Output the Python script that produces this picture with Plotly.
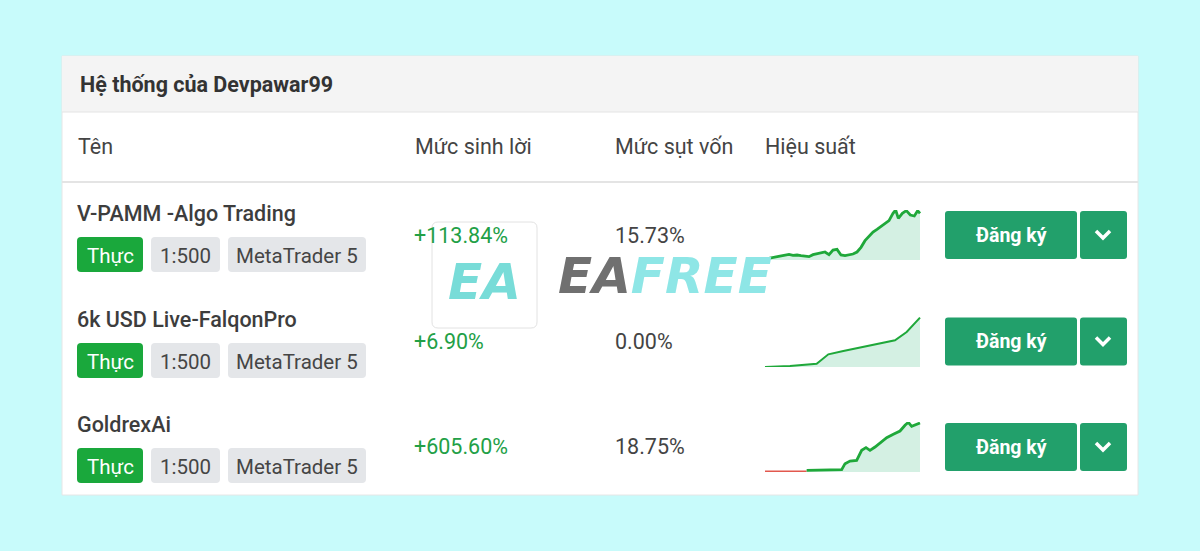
import plotly.graph_objects as go

W, H = 1200, 551

title = "Hệ thống của Devpawar99"
columns = ["Tên", "Mức sinh lời", "Mức sụt vốn", "Hiệu suất"]
names = ["V-PAMM -Algo Trading", "6k USD Live-FalqonPro", "GoldrexAi"]
account_type = ["Thực", "Thực", "Thực"]
leverage = ["1:500", "1:500", "1:500"]
platform = ["MetaTrader 5", "MetaTrader 5", "MetaTrader 5"]
profit = ["+113.84%", "+6.90%", "+605.60%"]
drawdown = ["15.73%", "0.00%", "18.75%"]
button_label = "Đăng ký"

# sparkline values (arbitrary units, 0 = baseline)
spark1_t = [15, 27, 39, 51, 63, 75, 87, 99, 111, 123, 135, 147, 159, 171, 183, 195, 207, 219,
            231, 243, 255, 267, 279, 291, 303, 315, 327, 339, 351, 363, 375, 387, 399, 407,
            415, 427, 439, 451, 463, 473, 480]
spark1_v = [3, 5, 7, 10, 12, 15, 17, 14, 15, 13, 12, 10, 16, 19, 22, 24, 16, 30,
            32, 15, 13, 16, 18, 24, 38, 58, 72, 84, 92, 100, 108, 118, 140, 150,
            125, 140, 148, 135, 132, 148, 140]
spark2_t = [15, 90, 170, 205, 250, 300, 350, 405, 440, 480]
spark2_v = [0, 3, 10, 38, 48, 58, 68, 80, 105, 148]
spark3_loss_t = [15, 140]
spark3_loss_v = [2, 2]
spark3_t = [140, 170, 200, 225, 245, 255, 270, 290, 305, 318, 330, 345, 360, 380, 400, 420,
            435, 445, 455, 465, 480]
spark3_v = [5, 6, 5, 6, 7, 25, 33, 35, 65, 73, 65, 75, 87, 103, 113, 123,
            140, 149, 137, 141, 147]

row_top = [190, 296, 401]          # top of each row block (pixels)
GREEN = "#1aa83c"
BTN = "#22a06b"
TXT = "#3d3d3d"
FONT = "Roboto"
BG = "#c8fbfb"


def rrect(x0, y0, x1, y1, r=4):
    return (f"M{x0 + r},{y0} L{x1 - r},{y0} Q{x1},{y0} {x1},{y0 + r} "
            f"L{x1},{y1 - r} Q{x1},{y1} {x1 - r},{y1} L{x0 + r},{y1} "
            f"Q{x0},{y1} {x0},{y1 - r} L{x0},{y0 + r} Q{x0},{y0} {x0 + r},{y0} Z")


fig = go.Figure()
shapes = []
ann = []

# card
shapes.append(dict(type="rect", x0=62, y0=56, x1=1138, y1=495, fillcolor="white",
                   line=dict(color="#e6e6e6", width=1), layer="below"))
shapes.append(dict(type="rect", x0=62, y0=56, x1=1138, y1=112, fillcolor="#f4f4f4",
                   line=dict(width=0), layer="below"))
shapes.append(dict(type="line", x0=62, y0=112, x1=1138, y1=112,
                   line=dict(color="#e4e4e4", width=1), layer="below"))
shapes.append(dict(type="line", x0=62, y0=182, x1=1138, y1=182,
                   line=dict(color="#e4e4e4", width=2), layer="below"))

ann.append(dict(x=78, y=84, text=f"<b>{title}</b>", xanchor="left", yanchor="middle",
                font=dict(family=FONT, size=21.5, color="#333333")))
col_x = [76, 413, 613, 763]
for cx, c in zip(col_x, columns):
    ann.append(dict(x=cx, y=146, text=c, xanchor="left", yanchor="middle",
                    font=dict(family=FONT, size=21.5, color="#444444")))

for i, top in enumerate(row_top):
    ann.append(dict(x=75, y=top + 23, text=names[i], xanchor="left", yanchor="middle",
                    font=dict(family=FONT, size=21.5, color=TXT, weight=500)))
    by0, by1 = top + 47, top + 82
    badges = [(77, 143, account_type[i], GREEN, "white"),
              (151, 220, leverage[i], "#e4e6e9", "#454545"),
              (228, 366, platform[i], "#e4e6e9", "#454545")]
    for bx0, bx1, label, bg, fg in badges:
        shapes.append(dict(type="path", path=rrect(bx0, by0, bx1, by1, 4), fillcolor=bg,
                           line=dict(width=0), layer="below"))
        ann.append(dict(x=(bx0 + bx1) / 2, y=(by0 + by1) / 2 + 1, text=label, xanchor="center",
                        yanchor="middle", font=dict(family=FONT, size=20.5, color=fg)))
    vy = top + 45
    ann.append(dict(x=412, y=vy, text=profit[i], xanchor="left", yanchor="middle",
                    font=dict(family=FONT, size=21.5, color="#22a046")))
    ann.append(dict(x=613, y=vy, text=drawdown[i], xanchor="left", yanchor="middle",
                    font=dict(family=FONT, size=21.5, color="#444444")))
    # buttons
    cy = top + 45 + (i * 0.5)
    shapes.append(dict(type="path", path=rrect(945, cy - 24, 1077, cy + 24, 3), fillcolor=BTN,
                       line=dict(width=0), layer="below"))
    shapes.append(dict(type="path", path=rrect(1080, cy - 24, 1127, cy + 24, 3), fillcolor=BTN,
                       line=dict(width=0), layer="below"))
    shapes.append(dict(type="path", path=f"M1096,{cy - 4} L1103,{cy + 3} L1110,{cy - 4}",
                       line=dict(color="white", width=3.5), layer="below"))
    ann.append(dict(x=1011, y=cy, text=f"<b>{button_label}</b>", xanchor="center",
                    yanchor="middle", font=dict(family=FONT, size=19.5, color="white")))

# watermark
shapes.append(dict(type="path", path=rrect(432, 222, 537, 328, 6), fillcolor="rgba(255,255,255,0.35)",
                   line=dict(color="#e2e2e2", width=1), layer="above"))
ann.append(dict(x=484, y=282, text="<b><i>EA</i></b>", xanchor="center", yanchor="middle",
                font=dict(family="DejaVu Sans", size=50, color="#78dcd8")))
ann.append(dict(x=556, y=276, text="<b><i><span style='color:#707070'>EA</span>FREE</i></b>",
                xanchor="left", yanchor="middle",
                font=dict(family="DejaVu Sans", size=50, color="#8ee6e6")))

fig.add_trace(go.Scatter(x=[0], y=[0], mode="markers", marker=dict(opacity=0),
                         hoverinfo="skip", showlegend=False))

# sparklines
spark_box = [(210, 260), (317, 367), (422, 472)]
sparks = [[(spark1_t, spark1_v, "#1fa83a", 2.8, True)],
          [(spark2_t, spark2_v, "#1fa83a", 2.0, True)],
          [(spark3_loss_t, spark3_loss_v, "#e2584e", 1.6, False),
           (spark3_t, spark3_v, "#1fa83a", 2.8, True)]]
layout_axes = {}
for k, ((ytop, ybot), series) in enumerate(zip(spark_box, sparks), start=2):
    for t, v, col, lw, fill in series:
        fig.add_trace(go.Scatter(x=t, y=v, mode="lines", xaxis=f"x{k}", yaxis=f"y{k}",
                                 line=dict(color=col, width=lw), fill="tozeroy" if fill else None,
                                 fillcolor="rgba(170,225,200,0.5)", hoverinfo="skip",
                                 showlegend=False))
    layout_axes[f"xaxis{k}"] = dict(domain=[760 / W, 925 / W], range=[0, 495], visible=False,
                                    fixedrange=True)
    layout_axes[f"yaxis{k}"] = dict(domain=[(H - ybot) / H, (H - ytop) / H], range=[0, 150],
                                    visible=False, fixedrange=True, anchor=f"x{k}")

fig.update_layout(
    width=W, height=H, margin=dict(l=0, r=0, t=0, b=0),
    paper_bgcolor=BG, plot_bgcolor="rgba(0,0,0,0)",
    xaxis=dict(range=[0, W], visible=False, fixedrange=True, domain=[0, 1]),
    yaxis=dict(range=[H, 0], visible=False, fixedrange=True, domain=[0, 1]),
    shapes=shapes, annotations=ann, showlegend=False,
    **layout_axes,
)
for a in fig.layout.annotations:
    a.showarrow = False
    a.xref = "x"
    a.yref = "y"

fig.write_html("out.html", config={"displayModeBar": False},
               post_script=f"document.body.style.margin='0';document.body.style.background='{BG}';")
